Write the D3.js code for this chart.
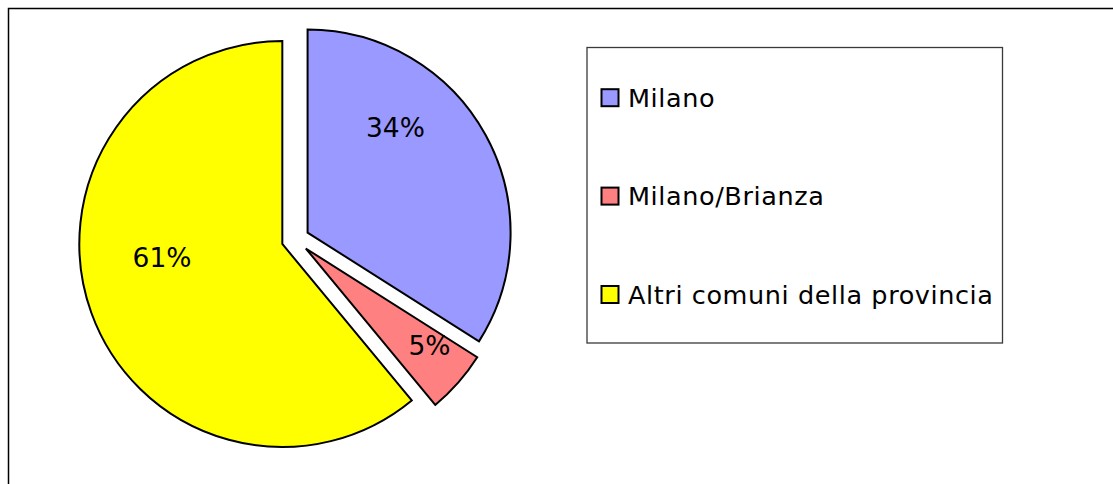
<!DOCTYPE html>
<html>
<head>
<meta charset="utf-8">
<script src="https://cdn.jsdelivr.net/npm/d3@7"></script>
<style>
  html, body { margin: 0; padding: 0; background: #fff; }
  svg { display: block; }
  text { font-family: "DejaVu Sans", Verdana, sans-serif; fill: #000; }
</style>
</head>
<body>
<svg id="chart" width="1113" height="484"></svg>
<script>
// ---- data ----
const categories = ["Milano", "Milano/Brianza", "Altri comuni della provincia"];
const values = [34, 5, 61];
const labels = ["34%", "5%", "61%"];

// ---- styling / layout ----
const colors = ["#9999ff", "#ff8080", "#ffff00"];
const W = 1113, H = 484;
const cx = 295.4, cy = 239.3, R = 203, explode = 13.9;
// label placement (angle in degrees clockwise from top, radius as fraction of R) relative to pie centre
const labelLayout = [
  { angle: 41.7, rf: 0.741 },
  { angle: 128.25, rf: 0.841 },
  { angle: 262.4, rf: 0.663 }
];

const svg = d3.select("#chart");

// outer chart frame (extends beyond window on right/bottom)
svg.append("rect")
  .attr("x", 8.5).attr("y", 8.5)
  .attr("width", 1200).attr("height", 600)
  .attr("fill", "#fff")
  .attr("stroke", "#000").attr("stroke-width", 1.5);

const pie = d3.pie().sort(null).value(d => d)(values);
const arc = d3.arc().innerRadius(0).outerRadius(R);

const g = svg.append("g").attr("transform", `translate(${cx},${cy})`);

g.selectAll("path.slice")
  .data(pie)
  .join("path")
  .attr("class", "slice")
  .attr("transform", d => {
    const a = (d.startAngle + d.endAngle) / 2;
    return `translate(${explode * Math.sin(a)},${-explode * Math.cos(a)})`;
  })
  .attr("d", arc)
  .attr("fill", (d, i) => colors[i])
  .attr("stroke", "#000")
  .attr("stroke-width", 2)
  .attr("stroke-linejoin", "miter");

const fontSize = 26.5;
g.selectAll("text.plabel")
  .data(pie)
  .join("text")
  .attr("class", "plabel")
  .attr("x", (d, i) => labelLayout[i].rf * R * Math.sin(labelLayout[i].angle * Math.PI / 180))
  .attr("y", (d, i) => -labelLayout[i].rf * R * Math.cos(labelLayout[i].angle * Math.PI / 180) + fontSize * 0.3645)
  .attr("text-anchor", "middle")
  .attr("font-size", fontSize)
  .text((d, i) => labels[i]);

// legend
const lx0 = 587, ly0 = 47.5, lx1 = 1002.5, ly1 = 343;
svg.append("rect")
  .attr("x", lx0).attr("y", ly0)
  .attr("width", lx1 - lx0).attr("height", ly1 - ly0)
  .attr("fill", "#fff")
  .attr("stroke", "#3a3a3a").attr("stroke-width", 1.3);

const legendY = d3.scalePoint().domain(categories).range([106.7, 303.5]);
const leg = svg.selectAll("g.leg")
  .data(categories)
  .join("g")
  .attr("class", "leg")
  .attr("transform", d => `translate(0,${legendY(d)})`);

leg.append("rect")
  .attr("x", 601.5).attr("y", -17.5)
  .attr("width", 17).attr("height", 17)
  .attr("fill", (d, i) => colors[i])
  .attr("stroke", "#000").attr("stroke-width", 2);

leg.append("text")
  .attr("x", 628)
  .attr("y", 0)
  .attr("font-size", 25.5)
  .attr("letter-spacing", 0.6)
  .text(d => d);
</script>
</body>
</html>
